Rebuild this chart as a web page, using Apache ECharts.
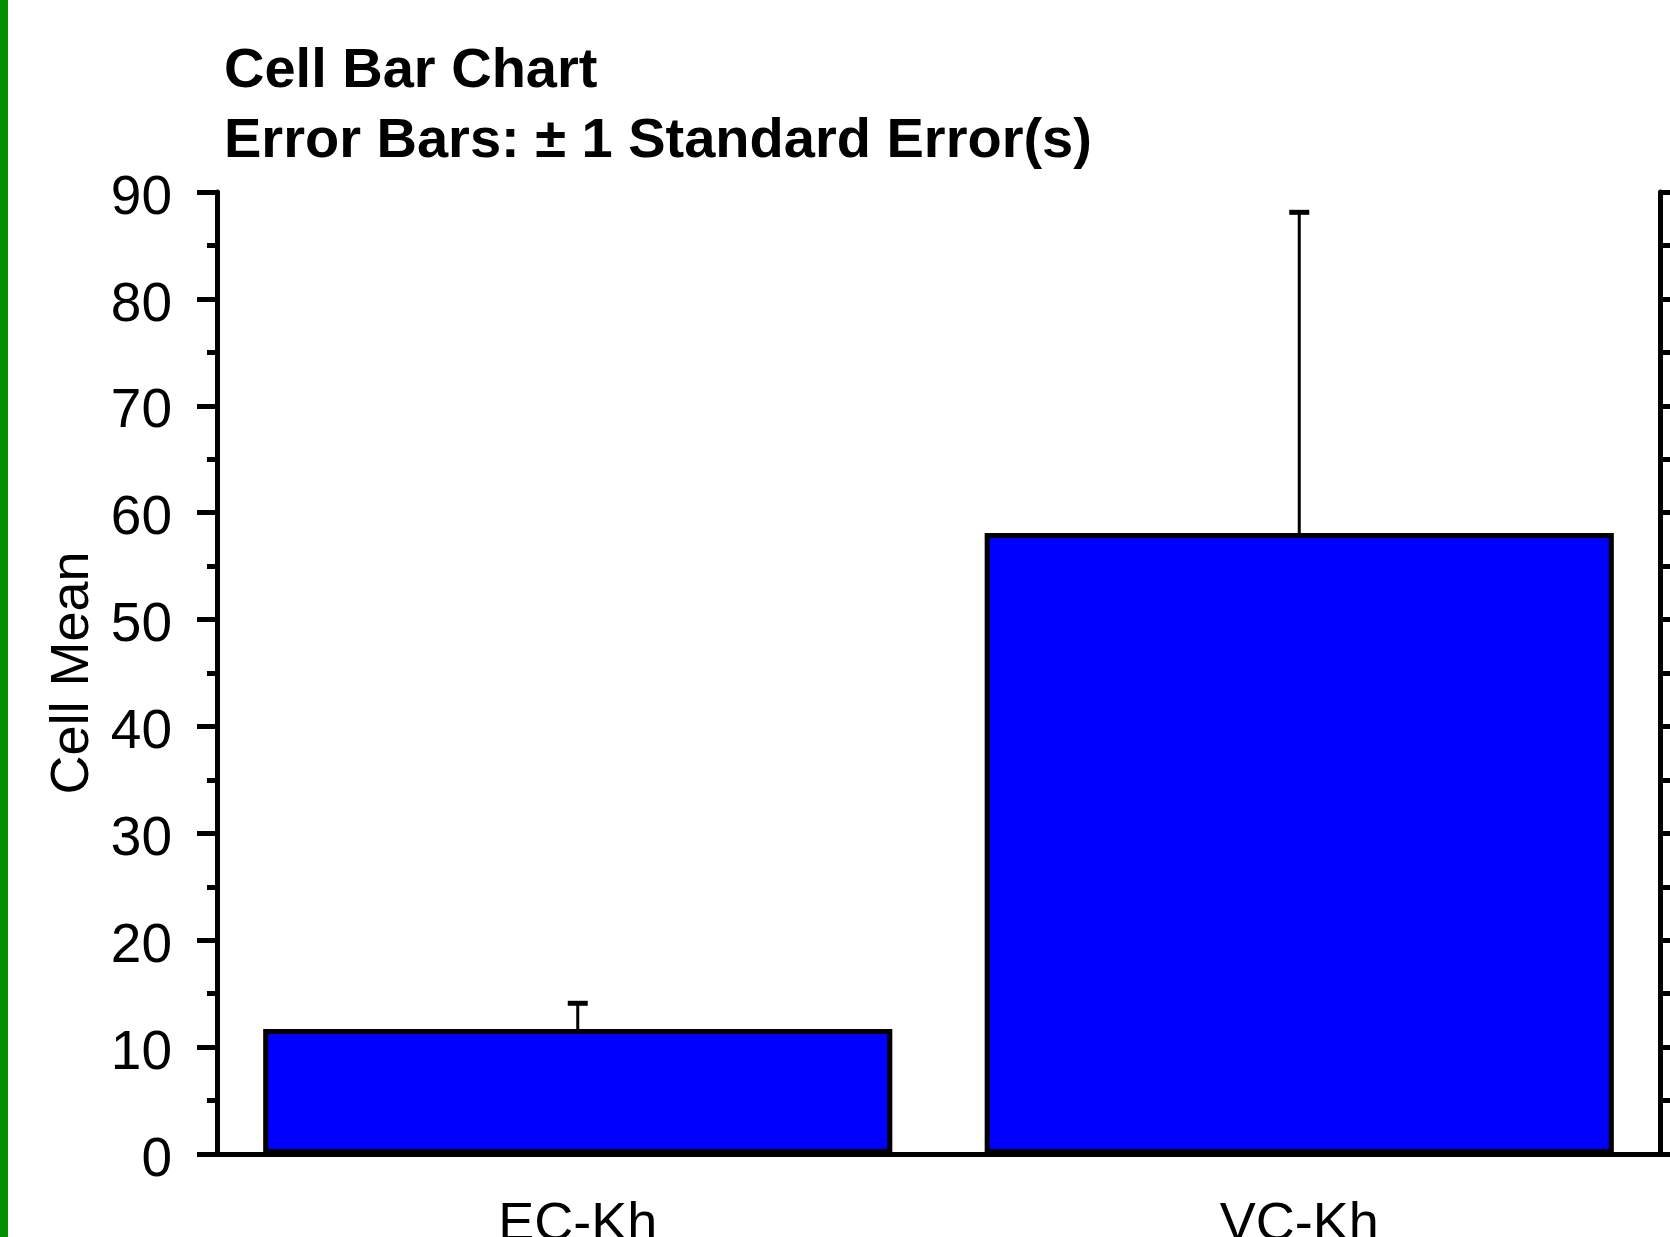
<!DOCTYPE html>
<html>
<head>
<meta charset="utf-8">
<script src="https://cdn.jsdelivr.net/npm/echarts@6/dist/echarts.min.js"></script>
<style>
  html, body { margin: 0; padding: 0; background: #fff; overflow: hidden; }
  #wrap { position: relative; width: 1670px; height: 1237px; }
  #chart { position: absolute; left: 0; top: 0; width: 1670px; height: 1237px; }
  #strip { position: absolute; left: 0; top: 0; width: 8px; height: 1237px; background: #009100; z-index: 5; }
</style>
</head>
<body>
<div id="wrap">
  <div id="chart"></div>
  <div id="strip"></div>
</div>
<script>
const categories = ['EC-Kh', 'VC-Kh'];
const cellMeans = [11.7, 58.1];
const stdErrors = [2.4, 30.0];
const yTicks = [0, 10, 20, 30, 40, 50, 60, 70, 80, 90];
const titleLines = ['Cell Bar Chart', 'Error Bars: \u00B1 1 Standard Error(s)'];
const yAxisName = 'Cell Mean';

const FONT = "'Liberation Sans', Arial, Helvetica, sans-serif";
const chart = echarts.init(document.getElementById('chart'), null, { renderer: 'canvas' });

const errData = categories.map((c, i) => [i, cellMeans[i] - stdErrors[i], cellMeans[i] + stdErrors[i]]);

const option = {
  backgroundColor: '#ffffff',
  animation: false,
  title: {
    text: titleLines.join('\n'),
    left: 224,
    top: 37,
    padding: 0,
    textStyle: { fontFamily: FONT, fontSize: 56, fontWeight: 'bold', color: '#000', lineHeight: 70 }
  },
  grid: { left: 217, right: 10, top: 192, bottom: 83, containLabel: false, outerBoundsMode: 'none' },
  xAxis: [
    {
      type: 'category', data: categories, position: 'bottom',
      axisLine: { lineStyle: { color: '#000', width: 5 } },
      axisTick: { alignWithLabel: true, length: 10, lineStyle: { color: '#000', width: 3 } },
      axisLabel: { fontFamily: FONT, fontSize: 54, color: '#000', margin: 44 },
      splitLine: { show: false }
    },
    {
      type: 'category', data: categories, position: 'top',
      axisLine: { lineStyle: { color: '#000', width: 5 } },
      axisTick: { alignWithLabel: true, length: 10, lineStyle: { color: '#000', width: 3 } },
      axisLabel: { show: false },
      splitLine: { show: false }
    }
  ],
  yAxis: [
    {
      type: 'value', min: yTicks[0], max: yTicks[yTicks.length - 1], interval: 10, position: 'left',
      name: yAxisName, nameLocation: 'middle', nameGap: 109, nameRotate: 90,
      nameTextStyle: { fontFamily: FONT, fontSize: 54, color: '#000' },
      axisLine: { show: true, lineStyle: { color: '#000', width: 5 } },
      axisTick: { show: true, length: 20, lineStyle: { color: '#000', width: 5 } },
      minorTick: { show: true, splitNumber: 2, length: 10, lineStyle: { color: '#000', width: 5 } },
      axisLabel: { fontFamily: FONT, fontSize: 55, color: '#000', margin: 45, verticalAlign: 'top', lineHeight: 13 },
      splitLine: { show: false }
    },
    {
      type: 'value', min: yTicks[0], max: yTicks[yTicks.length - 1], interval: 5, position: 'right',
      axisLine: { show: true, lineStyle: { color: '#000', width: 5 } },
      axisTick: { show: true, length: 14, lineStyle: { color: '#000', width: 5 } },
      axisLabel: { show: false },
      splitLine: { show: false }
    }
  ],
  series: [
    {
      type: 'custom',
      name: 'SE',
      xAxisIndex: 0, yAxisIndex: 0,
      z: 1,
      data: errData,
      renderItem: function (params, api) {
        const x = api.value(0);
        const lo = api.coord([x, api.value(1)]);
        const hi = api.coord([x, api.value(2)]);
        const half = 10;
        return {
          type: 'group',
          children: [
            { type: 'line', shape: { x1: hi[0], y1: lo[1], x2: hi[0], y2: hi[1] }, style: { stroke: '#000', lineWidth: 3 } },
            { type: 'line', shape: { x1: hi[0] - half, y1: hi[1], x2: hi[0] + half, y2: hi[1] }, style: { stroke: '#000', lineWidth: 5 } },
            { type: 'line', shape: { x1: lo[0] - half, y1: lo[1], x2: lo[0] + half, y2: lo[1] }, style: { stroke: '#000', lineWidth: 5 } }
          ]
        };
      }
    },
    {
      type: 'bar',
      name: 'Cell Mean',
      xAxisIndex: 0, yAxisIndex: 0,
      z: 2,
      data: cellMeans,
      barWidth: '87.2%',
      itemStyle: { color: '#0000ff', borderColor: '#000', borderWidth: 5 }
    }
  ]
};
chart.setOption(option);
</script>
</body>
</html>
